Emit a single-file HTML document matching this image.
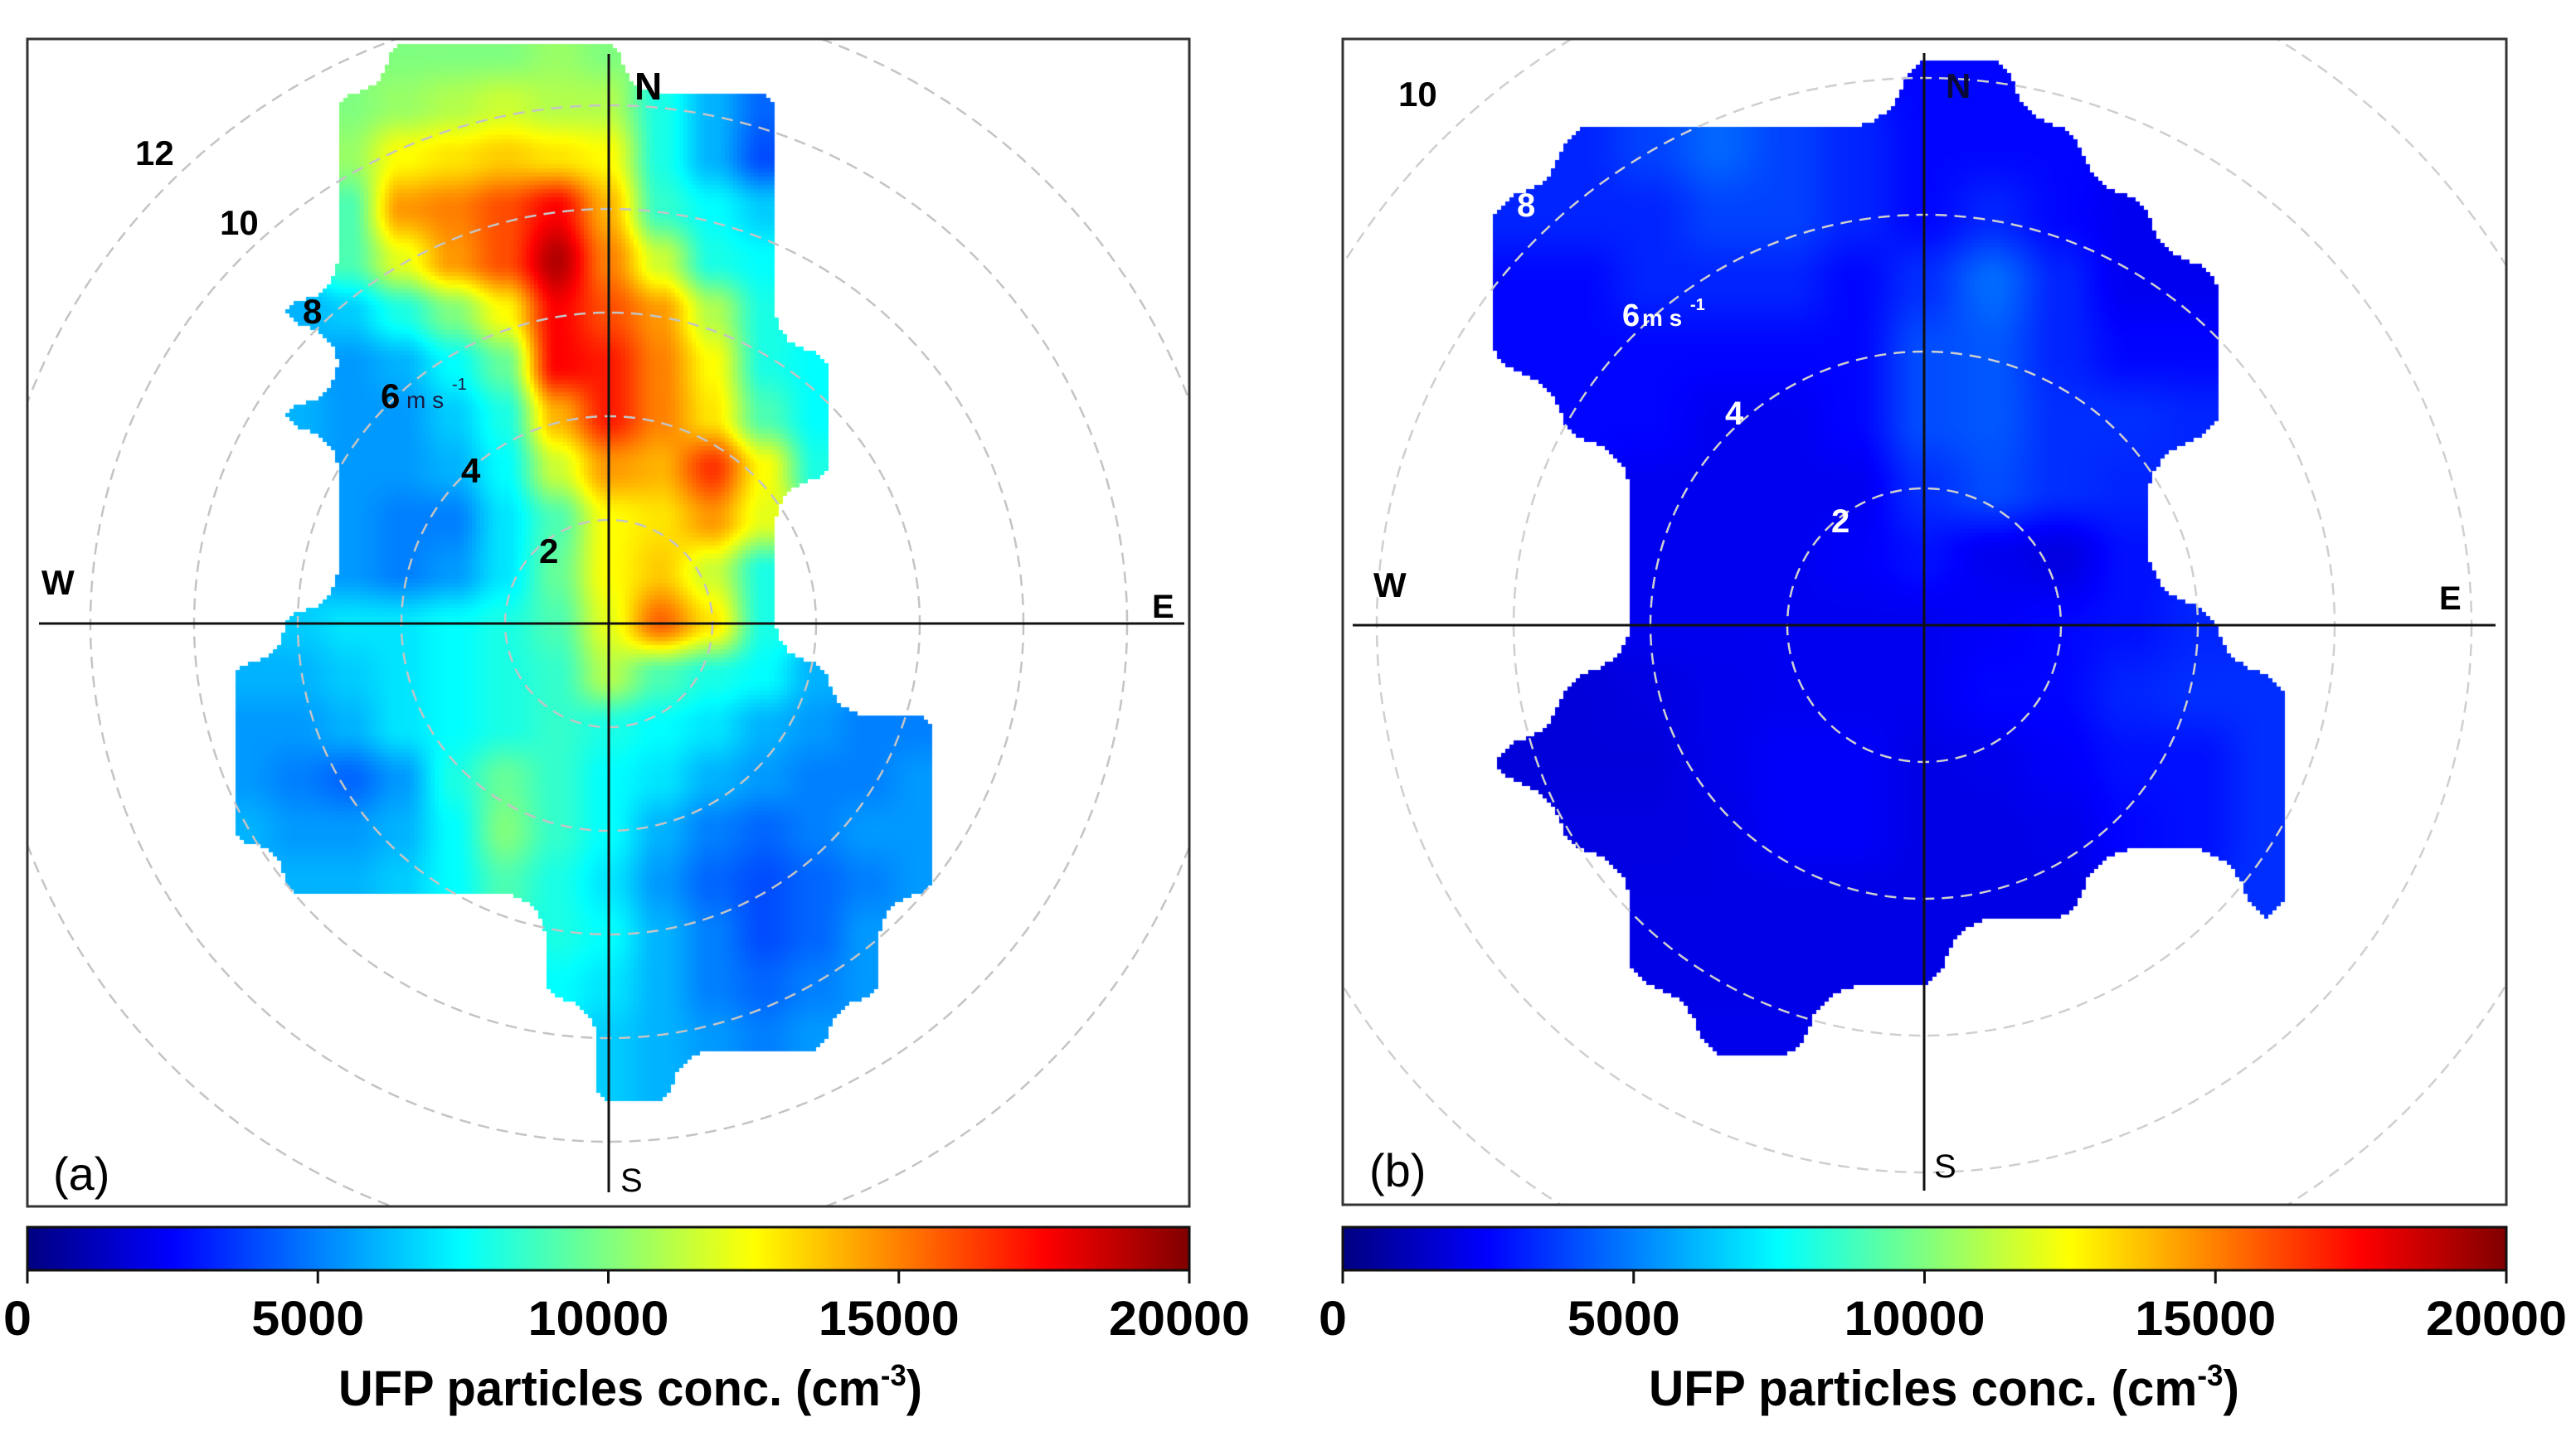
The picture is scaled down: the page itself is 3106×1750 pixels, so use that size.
<!DOCTYPE html>
<html>
<head>
<meta charset="utf-8">
<style>
  html,body{margin:0;padding:0;background:#fff;}
  #wrap{position:relative;width:3106px;height:1750px;overflow:hidden;background:#fff;}
  canvas{position:absolute;}
  svg{position:absolute;left:0;top:0;}
  text{font-family:"Liberation Sans",sans-serif;}
</style>
</head>
<body>
<div id="wrap">
  <canvas id="heatA"></canvas>
  <canvas id="heatB"></canvas>
  <svg id="svg" width="3106" height="1750" xmlns="http://www.w3.org/2000/svg">
    <defs>
      <clipPath id="clipA"><rect x="33" y="47" width="1401" height="1408"/></clipPath>
      <clipPath id="clipB"><rect x="1619" y="47" width="1403" height="1406"/></clipPath>
      <linearGradient id="jetGrad" x1="0" x2="1" y1="0" y2="0"></linearGradient>
    </defs>
    <g id="ringsA" clip-path="url(#clipA)"></g>
    <g id="ringsB" clip-path="url(#clipB)"></g>

    <line x1="47" y1="752" x2="1428" y2="752" stroke="#111" stroke-width="3"/>
    <line x1="734" y1="65" x2="734" y2="1438" stroke="#111" stroke-width="3"/>
    <rect x="33" y="47" width="1401" height="1408" fill="none" stroke="#333" stroke-width="3"/>

    <line x1="1631" y1="754" x2="3009" y2="754" stroke="#111" stroke-width="3"/>
    <line x1="2320" y1="64" x2="2320" y2="1436" stroke="#111" stroke-width="3"/>
    <rect x="1619" y="47" width="1403" height="1406" fill="none" stroke="#333" stroke-width="3"/>

    <g font-weight="bold" fill="#000">
      <text x="163" y="199" font-size="42">12</text>
      <text x="265" y="283" font-size="42">10</text>
      <text x="365" y="390" font-size="42">8</text>
      <text x="459" y="492" font-size="42">6</text>
      <text x="490" y="492" font-size="28" font-weight="normal" fill="#1a1a40">m s</text>
      <text x="545" y="470" font-size="20" font-weight="normal" fill="#1a1a40">-1</text>
      <text x="556" y="582" font-size="42">4</text>
      <text x="650" y="679" font-size="42">2</text>
    </g>
    <text x="765" y="120" font-size="46" font-weight="bold">N</text>
    <text x="50" y="717" font-size="42" font-weight="bold">W</text>
    <text x="1389" y="745" font-size="40" font-weight="bold">E</text>
    <text x="748" y="1437" font-size="40">S</text>
    <text x="64" y="1435" font-size="56">(a)</text>

    <text x="1686" y="128" font-size="42" font-weight="bold" fill="#000">10</text>
    <g font-weight="bold" fill="#fff">
      <text x="1829" y="261" font-size="40">8</text>
      <text x="1956" y="393" font-size="38">6</text>
      <text x="1980" y="393" font-size="28">m s</text>
      <text x="2038" y="374" font-size="20">-1</text>
      <text x="2080" y="512" font-size="40">4</text>
      <text x="2208" y="642" font-size="40">2</text>
    </g>
    <text x="2346" y="118" font-size="42" font-weight="bold" fill="#0a0a3a">N</text>
    <text x="1656" y="720" font-size="42" font-weight="bold">W</text>
    <text x="2941" y="735" font-size="40" font-weight="bold">E</text>
    <text x="2332" y="1420" font-size="40">S</text>
    <text x="1651" y="1431" font-size="56">(b)</text>

    <rect x="33" y="1480" width="1401" height="52" fill="url(#jetGrad)" stroke="#111" stroke-width="3"/>
    <rect x="1619" y="1480" width="1403" height="52" fill="url(#jetGrad)" stroke="#111" stroke-width="3"/>
    <g id="cbTicks"></g>
    <text x="760" y="1695" font-size="60" font-weight="bold" text-anchor="middle" style="font-family:'Liberation Sans Narrow','Liberation Sans',sans-serif" textLength="704" lengthAdjust="spacingAndGlyphs">UFP particles conc. (cm<tspan dy="-24" font-size="36">-3</tspan><tspan dy="24">)</tspan></text>
    <text x="2344" y="1695" font-size="60" font-weight="bold" text-anchor="middle" style="font-family:'Liberation Sans Narrow','Liberation Sans',sans-serif" textLength="712" lengthAdjust="spacingAndGlyphs">UFP particles conc. (cm<tspan dy="-24" font-size="36">-3</tspan><tspan dy="24">)</tspan></text>
  </svg>
</div>
<script>
var N = null;
var cbTicks = [0, 5000, 10000, 15000, 20000];
var cbTickLabels = ["0", "5000", "10000", "15000", "20000"];
var concMax = 20;
var uA = [-7,-6,-5,-4,-3,-2,-1,0,1,2,3,4,5,6,7];
var vA = [11,10,9,8,7,6,5,4,3,2,1,0,-1,-2,-3,-4,-5,-6,-7,-8,-9];
var concA = [
 [N,N,N,10,10,10,10.5,10,N,N,N,N,N,N,N],
 [N,N,10,10.5,11,11.5,11,11,8,6,4.5,N,N,N,N],
 [N,N,10.5,12.5,13,13.5,13,12.5,8,6,4,N,N,N,N],
 [N,N,9,14.5,15,16,17.5,14,8.5,7.5,6.5,N,N,N,N],
 [N,N,9,12,14.5,16,19,15,11.5,8,7.5,N,N,N,N],
 [N,6,6.5,8,10,12.5,17.5,16,14.5,11,8,N,N,N,N],
 [N,N,5.5,6,7.5,9.5,17.5,17,15,12.5,8,7.5,N,N,N],
 [N,6,5.5,5.5,6.5,8,14,17,15,13,9,7.5,N,N,N],
 [N,N,5.5,5.5,6,7.5,11.5,14.5,14,16.5,12.5,8,N,N,N],
 [N,N,5.5,5,5,7,9,12.5,13,14.5,12,N,N,N,N],
 [N,N,5.5,5,5.5,7,9.5,12.5,13.5,11.5,8,N,N,N,N],
 [N,6.5,7,7,7.5,8,9,12,15.5,13,8,N,N,N,N],
 [6,6,6.5,7,7.5,8,8.5,11,9,8,7.5,6,N,N,N],
 [5.5,5.5,6,7,7.5,8,8.5,8,7.5,7,6,5.5,5,5,N],
 [5.5,5,4.5,5.5,8,9.5,8.5,7.5,7,6,5.5,5,5,5.5,N],
 [6,5.5,5.5,6,7.5,10,8.5,7.5,6,5,4.5,5,5.5,5.5,N],
 [N,6,6,6.5,7.5,9,8,7,5.5,4.5,4,4.5,5,5.5,N],
 [N,N,N,N,N,N,8,7.5,6,5,4,4.5,5.5,N,N],
 [N,N,N,N,N,N,7.5,7,6,5,4.5,5,5.5,N,N],
 [N,N,N,N,N,N,N,6.5,6,5.5,5,5.5,N,N,N],
 [N,N,N,N,N,N,N,6.5,6,N,N,N,N,N,N]
];
var uB = [-6,-5,-4,-3,-2,-1,0,1,2,3,4,5,6];
var vB = [8,7,6,5,4,3,2,1,0,-1,-2,-3,-4,-5,-6];
var concB = [
 [N,N,N,N,N,N,2.6,2.6,N,N,N,N,N],
 [N,3.2,3.8,4.5,3.8,3.2,2.6,2.6,2.6,N,N,N,N],
 [3.2,3.2,3.2,3.8,3.8,3.2,2.6,3.2,2.6,2.2,N,N,N],
 [2.6,2.6,3.2,3.2,3.2,2.6,3.4,4.6,3.2,2.2,2.2,N,N],
 [2.6,2.6,2.6,2.6,2.6,2.6,4,4.2,3.2,2.6,2.6,N,N],
 [N,2.6,2.6,2.2,2.2,2.6,4,4.2,3.4,3.4,3.2,N,N],
 [N,N,2.2,2.2,2.2,2.2,3.4,4,3.4,3.2,N,N,N],
 [N,N,2.2,2.2,2.2,2.4,2.8,2.2,1.9,2.8,N,N,N],
 [N,N,2.2,2.2,2.2,2.2,2.2,2.4,2.6,2.8,3.2,N,N],
 [N,1.8,1.9,2.1,2.2,2.2,2.2,2.6,2.6,3.2,3.4,3.4,N],
 [1.8,1.8,1.8,2.1,2.4,2.4,2,2.1,2.4,2.8,2.8,3.4,N],
 [N,1.9,1.9,2,2.4,2.4,2,2,2.1,2.6,2.8,3.4,N],
 [N,N,2,2,2,2,2,2,2,N,N,3.4,N],
 [N,N,2,2,2,2,2,N,N,N,N,N,N],
 [N,N,N,2.1,2.1,N,N,N,N,N,N,N,N]
];
var ringsA = [2,4,6,8,10,12];
var ringsB = [2,4,6,8,10];

function clamp(x){return x<0?0:(x>1?1:x);}
function jet(t){
  t = clamp(t);
  return [clamp(1.5-Math.abs(4*t-3)), clamp(1.5-Math.abs(4*t-2)), clamp(1.5-Math.abs(4*t-1))];
}
function sm(f){return f*f*(3-2*f);}

function drawHeat(canvas, box, cx, cy, scale, us, vs, grid, thr){
  canvas.width = box.w; canvas.height = box.h;
  canvas.style.left = box.x + 'px'; canvas.style.top = box.y + 'px';
  var ctx = canvas.getContext('2d');
  var img = ctx.createImageData(box.w, box.h);
  var d = img.data;
  var u0 = us[0], du = us[1]-us[0], v0 = vs[0], dv = vs[0]-vs[1];
  var nr = vs.length, nc = us.length;
  function cell(r,c){
    if(r<0||c<0||r>=nr||c>=nc) return null;
    return grid[r][c];
  }
  var B = 5;
  for(var py=0; py<box.h; py+=B){
    for(var px=0; px<box.w; px+=B){
      var X = box.x + px + B/2, Y = box.y + py + B/2;
      var u = (X-cx)/scale, v = (cy-Y)/scale;
      var fc = (u-u0)/du, fr = (v0-v)/dv;
      var c0 = Math.floor(fc), r0 = Math.floor(fr);
      var fx = fc-c0, fy = fr-r0;
      var sx = sm(fx), sy = sm(fy);
      var ws = [(1-fx)*(1-fy), fx*(1-fy), (1-fx)*fy, fx*fy];
      var wv = [(1-sx)*(1-sy), sx*(1-sy), (1-sx)*sy, sx*sy];
      var vals = [cell(r0,c0), cell(r0,c0+1), cell(r0+1,c0), cell(r0+1,c0+1)];
      var ind = 0, acc = 0, wsum = 0;
      for(var k=0;k<4;k++){
        if(vals[k]!==null){ ind += ws[k]; acc += wv[k]*vals[k]; wsum += wv[k]; }
      }
      if(ind < thr || wsum<=0) continue;
      var col = jet(acc/wsum/concMax);
      var R = Math.round(col[0]*255), G = Math.round(col[1]*255), Bc = Math.round(col[2]*255);
      for(var yy=py; yy<Math.min(py+B, box.h); yy++){
        for(var xx=px; xx<Math.min(px+B, box.w); xx++){
          var i = (yy*box.w+xx)*4;
          d[i]=R; d[i+1]=G; d[i+2]=Bc; d[i+3]=255;
        }
      }
    }
  }
  ctx.putImageData(img,0,0);
}

drawHeat(document.getElementById('heatA'), {x:34,y:48,w:1399,h:1406}, 734, 752, 62.5, uA, vA, concA, 0.78);
drawHeat(document.getElementById('heatB'), {x:1620,y:48,w:1401,h:1404}, 2320, 754, 82.5, uB, vB, concB, 0.72);

var SVGNS = "http://www.w3.org/2000/svg";
function drawRings(gid, cx, cy, scale, rings, color){
  var g = document.getElementById(gid);
  rings.forEach(function(r){
    var c = document.createElementNS(SVGNS,'circle');
    c.setAttribute('cx', cx); c.setAttribute('cy', cy);
    c.setAttribute('r', r*scale);
    c.setAttribute('fill','none');
    c.setAttribute('stroke', color);
    c.setAttribute('stroke-width','2.5');
    c.setAttribute('stroke-dasharray','14 9');
    
    
    g.appendChild(c);
  });
}
drawRings('ringsA', 734, 752, 62.5, ringsA, '#c4c4c4');
drawRings('ringsB', 2320, 754, 82.5, ringsB, '#cfcfcf');

var grad = document.getElementById('jetGrad');
for(var s=0;s<=40;s++){
  var t = s/40, col = jet(t);
  var st = document.createElementNS(SVGNS,'stop');
  st.setAttribute('offset', t);
  st.setAttribute('stop-color', 'rgb('+Math.round(col[0]*255)+','+Math.round(col[1]*255)+','+Math.round(col[2]*255)+')');
  grad.appendChild(st);
}

var tickG = document.getElementById('cbTicks');
[{x:33,w:1401},{x:1619,w:1403}].forEach(function(bar){
  cbTicks.forEach(function(val, i){
    var x = bar.x + val/(concMax*1000)*bar.w;
    var ln = document.createElementNS(SVGNS,'line');
    ln.setAttribute('x1',x); ln.setAttribute('x2',x);
    ln.setAttribute('y1',1532); ln.setAttribute('y2',1548);
    ln.setAttribute('stroke','#111'); ln.setAttribute('stroke-width','3');
    
    
    tickG.appendChild(ln);
    var tx = document.createElementNS(SVGNS,'text');
    var lab = cbTickLabels[i];
    var w = lab.length*34;
    tx.setAttribute('x', x - 12);
    tx.setAttribute('y', 1610);
    tx.setAttribute('text-anchor','middle');
    tx.setAttribute('font-size','58');
    tx.setAttribute('font-weight','bold');
    tx.setAttribute('style',"font-family:'Liberation Sans Narrow','Liberation Sans',sans-serif");
    tx.setAttribute('textLength', w);
    tx.setAttribute('lengthAdjust','spacingAndGlyphs');
    tx.textContent = lab;
    
    
    tickG.appendChild(tx);
  });
});
</script>
</body>
</html>
